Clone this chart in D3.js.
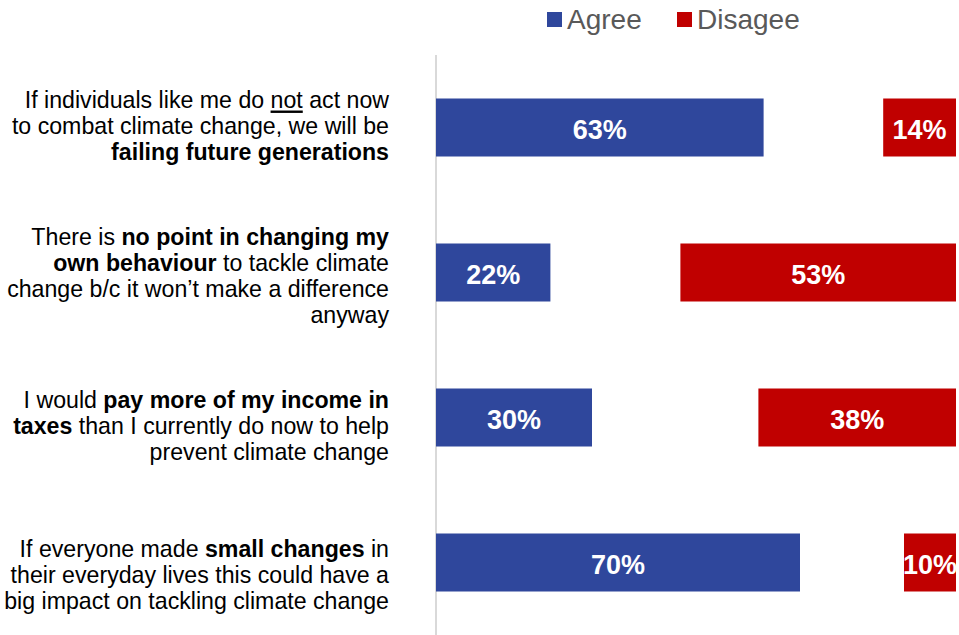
<!DOCTYPE html>
<html>
<head>
<meta charset="utf-8">
<script src="https://cdn.jsdelivr.net/npm/d3@7"></script>
<style>
  body { margin: 0; background: #fff; }
  svg { display: block; }
</style>
</head>
<body>
<svg width="959" height="635"></svg>
<script>
var width = 959, height = 635

// each label is a list of lines, each line a list of [text, style] pieces
var categories = ["individuals", "nopoint", "taxes", "small"]
var labels = [
  [[["If individuals like me do ", ""], ["not", "u"], [" act now", ""]],
   [["to combat climate change, we will be", ""]],
   [["failing future generations", "b"]]],
  [[["There is ", ""], ["no point in changing my", "b"]],
   [["own behaviour", "b"], [" to tackle climate", ""]],
   [["change b/c it won\u2019t make a difference", ""]],
   [["anyway", ""]]],
  [[["I would ", ""], ["pay more of my income in", "b"]],
   [["taxes", "b"], [" than I currently do now to help", ""]],
   [["prevent climate change", ""]]],
  [[["If everyone made ", ""], ["small changes", "b"], [" in", ""]],
   [["their everyday lives this could have a", ""]],
   [["big impact on tackling climate change", ""]]]
]
var agree = [63, 22, 30, 70]
var disagree = [14, 53, 38, 10]
var seriesNames = ["Agree", "Disagee"]
var colors = ["#2F479C", "#C00000"]

var svg = d3.select("svg")

var x = d3.scaleLinear().domain([0, 100]).range([436, 956])
var y = d3.scaleBand().domain(categories).range([55, 635])
  .paddingInner(0.6).paddingOuter(0.3)
// label blocks sit on a slightly wider spacing than the bars
var yl = d3.scalePoint().domain(categories).range([126, 575])

// axis line
svg.append("line")
  .attr("x1", x(0)).attr("x2", x(0))
  .attr("y1", 55).attr("y2", 635)
  .attr("stroke", "#d9d9d9").attr("stroke-width", 2)

// category labels (squeezed a bit to look like the narrow font)
var lh = 26
var labelG = svg.append("g").attr("transform", "translate(389,0) scale(0.965,1)")
categories.forEach(function(c, i) {
  var lines = labels[i]
  var first = yl(c) - (lines.length - 1) / 2 * lh + 8.5
  var t = labelG.append("text")
    .attr("text-anchor", "end")
    .attr("font-family", "'Liberation Sans', Arial, sans-serif")
    .attr("font-size", 24)
    .attr("fill", "#000")
  lines.forEach(function(line, j) {
    var l = t.append("tspan").attr("x", 0).attr("y", first + j * lh)
    line.forEach(function(p) {
      var s = l.append("tspan").text(p[0])
      if (p[1] == "b") s.attr("font-weight", "bold")
      if (p[1] == "u") s.attr("text-decoration", "underline")
    })
  })
})

// agree bars
svg.selectAll(".agree").data(agree).enter().append("rect")
  .attr("class", "agree")
  .attr("x", x(0))
  .attr("y", function(d, i) { return y(categories[i]) })
  .attr("width", function(d) { return x(d) - x(0) })
  .attr("height", y.bandwidth())
  .attr("fill", colors[0])

// disagree bars, anchored to the right end
svg.selectAll(".disagree").data(disagree).enter().append("rect")
  .attr("class", "disagree")
  .attr("x", function(d) { return x(100 - d) })
  .attr("y", function(d, i) { return y(categories[i]) })
  .attr("width", function(d) { return x(100) - x(100 - d) })
  .attr("height", y.bandwidth())
  .attr("fill", colors[1])

function barLabel(data, cx) {
  svg.selectAll(null).data(data).enter().append("text")
    .attr("x", cx)
    .attr("y", function(d, i) { return y(categories[i]) + y.bandwidth() / 2 })
    .attr("dy", "0.42em")
    .attr("text-anchor", "middle")
    .attr("font-family", "'Liberation Sans', Arial, sans-serif")
    .attr("font-weight", "bold")
    .attr("font-size", 27)
    .attr("fill", "#fff")
    .text(function(d) { return d + "%" })
}
barLabel(agree, function(d) { return (x(0) + x(d)) / 2 })
barLabel(disagree, function(d) { return (x(100 - d) + x(100)) / 2 })

// legend
var lx = [547, 677]
seriesNames.forEach(function(n, i) {
  svg.append("rect")
    .attr("x", lx[i]).attr("y", 12)
    .attr("width", 15).attr("height", 15)
    .attr("fill", colors[i])
  svg.append("text")
    .attr("x", lx[i] + 20).attr("y", 29)
    .attr("font-family", "'Liberation Sans', Arial, sans-serif")
    .attr("font-size", 28)
    .attr("fill", "#595959")
    .text(n)
})
</script>
</body>
</html>
